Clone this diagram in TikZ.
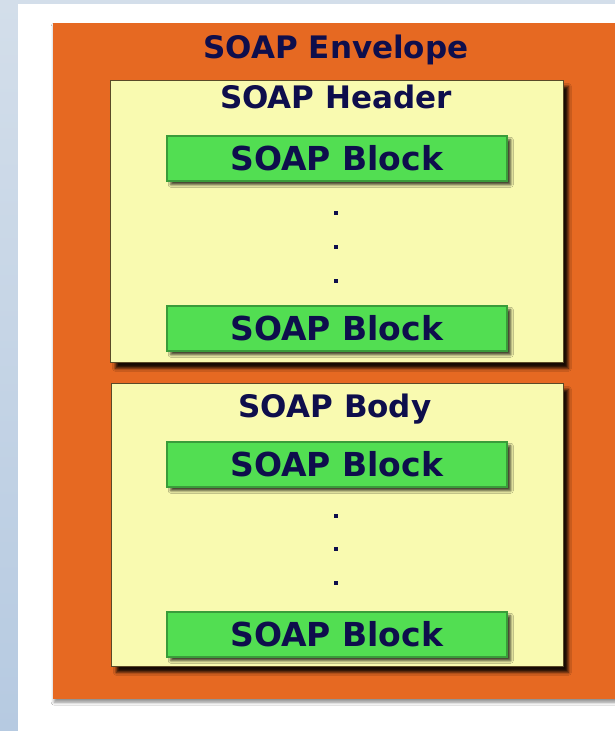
\documentclass[tikz,border=0pt]{standalone}
\usepackage{fontspec}
\setmainfont{DejaVu Sans}
\usetikzlibrary{shadows.blur}

\definecolor{envorange}{HTML}{E66922}
\definecolor{paleyellow}{HTML}{F9FAB0}
\definecolor{partedge}{HTML}{5A4A28}
\definecolor{blockgreen}{HTML}{52DE52}
\definecolor{blockedge}{HTML}{3A9C3A}
\definecolor{inkblue}{HTML}{0E0E4C}
\definecolor{skyA}{HTML}{D3DEEA}
\definecolor{skyB}{HTML}{B6CAE1}

\begin{document}
\begin{tikzpicture}[x=1pt,y=-1pt,
  envelope/.style={fill=envorange, draw=none, inner sep=0pt, anchor=north west,
    blur shadow={shadow xshift=1pt, shadow yshift=-3pt, shadow opacity=45, shadow blur radius=3pt}},
  part/.style={fill=paleyellow, draw=partedge, line width=0.8pt, inner sep=0pt, anchor=north west,
    blur shadow={shadow xshift=5pt, shadow yshift=-6pt, shadow opacity=90, shadow blur radius=3pt}},
  block/.style={fill=blockgreen, draw=blockedge, line width=1.5pt, inner sep=0pt, anchor=north west,
    minimum width=340pt, minimum height=45pt, text=inkblue,
    font=\fontsize{33}{38}\selectfont\bfseries,
    blur shadow={shadow xshift=4pt, shadow yshift=-4pt, shadow opacity=75, shadow blur radius=2.5pt}},
  title/.style={anchor=base, inner sep=0pt, text=inkblue,
    font=\fontsize{31}{37}\selectfont\bfseries},
  gap/.style={rectangle, fill=inkblue, inner sep=0pt, minimum size=4.5pt}
]
\useasboundingbox (0,0) rectangle (615,731);
\clip (0,0) rectangle (615,731);

% backdrop: pale blue frame with a white sheet
\fill[top color=skyA, bottom color=skyB] (0,0) rectangle (615,731);
\fill[white] (18,4) rectangle (640,760);

% envelope
\node[envelope, minimum width=580pt, minimum height=676pt] (env) at (53,23) {};
\node[title] (envtitle) at (336,58) {SOAP Envelope};

% header part
\node[part, minimum width=453pt, minimum height=282pt] (header) at (110,80) {};
\node[title] (headtitle) at (336,108) {SOAP Header};
\node[block] (hb1) at (166,135) {SOAP Block};
\node[gap] (hd1) at (336,213) {};
\node[gap] (hd2) at (336,247) {};
\node[gap] (hd3) at (336,281) {};
\node[block] (hb2) at (166,305) {SOAP Block};

% body part
\node[part, minimum width=452pt, minimum height=283pt] (body) at (111,383) {};
\node[title] (bodytitle) at (335,417) {SOAP Body};
\node[block] (bb1) at (166,441) {SOAP Block};
\node[gap] (bd1) at (336,516) {};
\node[gap] (bd2) at (336,549) {};
\node[gap] (bd3) at (336,583) {};
\node[block] (bb2) at (166,611) {SOAP Block};
\end{tikzpicture}
\end{document}
